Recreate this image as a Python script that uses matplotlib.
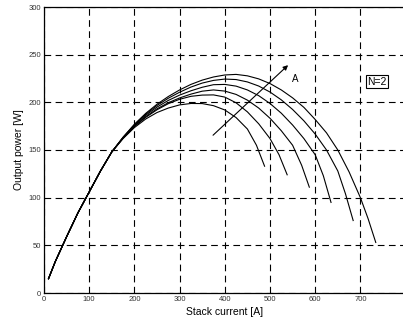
import numpy as np
import matplotlib
matplotlib.use("Agg")
import matplotlib.pyplot as plt

plt.rcParams['font.family'] = ['Liberation Sans', 'DejaVu Sans']

# shared rising part (current A, power W)
trunk_I = [10, 25, 50, 75, 100, 125, 150]
trunk_P = [15, 33, 59, 84, 106, 128, 148]

# per-curve continuation (current A, power W), inner -> outer (increasing A)
c1_I = [175, 200, 225, 250, 275, 300, 325, 350, 375, 400, 425, 450, 470, 488]
c1_P = [162, 173.5, 182.5, 189.3, 194, 197.3, 198.8, 198.7, 196.5, 192, 184, 172, 155, 133]
c2_I = [175, 200, 225, 250, 275, 300, 325, 350, 375, 400, 425, 450, 475, 500, 520, 538]
c2_P = [162.4, 174.6, 184.2, 192.2, 198.6, 203.2, 206.3, 207.6, 207.8, 205.5, 199.5, 190, 177.5, 162, 145, 124]
c3_I = [175, 200, 225, 250, 275, 300, 325, 350, 375, 400, 425, 450, 475, 500, 525, 550, 570, 587]
c3_P = [162.7, 175, 185, 193.2, 199.6, 204.6, 208.6, 211.7, 213, 211.8, 208.3, 202.3, 194, 183.3, 170.2, 155, 134, 111]
c4_I = [175, 200, 225, 250, 275, 300, 325, 350, 375, 400, 425, 450, 475, 500, 525, 550, 575, 600, 618, 635]
c4_P = [163, 175.9, 186.4, 195, 202, 207.6, 212.1, 215.8, 218.5, 218.8, 217, 213, 207, 198.8, 188.6, 176.2, 162, 145, 123, 95]
c5_I = [175, 200, 225, 250, 275, 300, 325, 350, 375, 400, 425, 450, 475, 500, 525, 550, 575, 600, 625, 650, 667, 684]
c5_P = [163.3, 176.5, 187.5, 196.7, 204.3, 210.6, 216, 220.2, 223, 224.4, 223.9, 221.4, 217.1, 210.8, 202.6, 192.5, 180.6, 166.7, 150, 128, 104, 76]
c6_I = [175, 200, 225, 250, 275, 300, 325, 350, 375, 400, 425, 450, 475, 500, 525, 550, 575, 600, 625, 650, 675, 700, 717, 734]
c6_P = [163.5, 177, 188.4, 198, 206.1, 213, 218.8, 223.3, 226.6, 228.7, 229.3, 227.8, 224.6, 219.7, 213, 204.7, 194.7, 182, 168, 150, 127, 100, 78, 53]

curves = [(c1_I, c1_P), (c2_I, c2_P), (c3_I, c3_P),
          (c4_I, c4_P), (c5_I, c5_P), (c6_I, c6_P)]

x_ticks = [0, 100, 200, 300, 400, 500, 600, 700]
y_ticks = [0, 50, 100, 150, 200, 250, 300]

fig = plt.figure(figsize=(4.03, 3.22), dpi=100)
ax = fig.add_axes([44/403, 29/322, 361.6/403, 286/322])

for ci, cp in curves:
    ax.plot(trunk_I + ci, trunk_P + cp, color='black', lw=0.8)

ax.set_xlim(0, 800)
ax.set_ylim(0, 300)
ax.set_xticks(x_ticks)
ax.set_yticks(y_ticks)
ax.tick_params(direction='in', length=3, width=0.6, labelsize=5.5,
               labelcolor='#333333', pad=2)
ax.grid(True, color='black', linestyle=(0, (6, 4)), linewidth=0.8)
for s in ax.spines.values():
    s.set_linewidth(0.9)

ax.set_xlabel('Stack current [A]', fontsize=7.5, labelpad=3)
ax.set_ylabel('Output power [W]', fontsize=7.5, labelpad=3)

ax.annotate('', xy=(540, 239), xytext=(374, 165.5),
            arrowprops=dict(arrowstyle='-|>', color='black', lw=0.8,
                            mutation_scale=7, shrinkA=0, shrinkB=0))
ax.text(549, 225, 'A', fontsize=7, ha='left', va='center')
ax.text(737, 221.5, 'N=2', fontsize=7.5, ha='center', va='center',
        bbox=dict(boxstyle='square,pad=0.15', facecolor='white',
                  edgecolor='black', linewidth=0.8))

fig.savefig('out.png', dpi=100)
